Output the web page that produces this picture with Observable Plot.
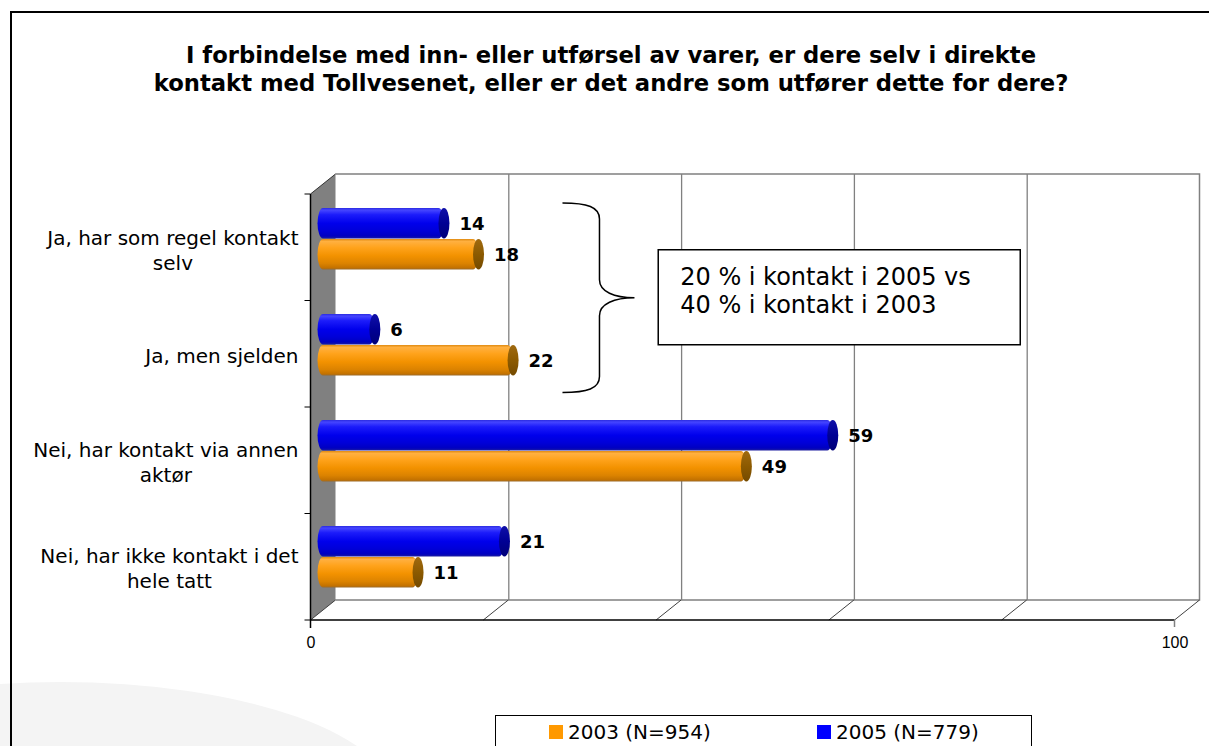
<!DOCTYPE html>
<html><head><meta charset="utf-8">
<script src="https://cdn.jsdelivr.net/npm/d3@7"></script>
<script src="https://cdn.jsdelivr.net/npm/@observablehq/plot@0.6"></script>
<style>
html,body{margin:0;padding:0;background:#fff;overflow:hidden;}
#wrap{position:relative;width:1209px;height:746px;overflow:hidden;font-family:"DejaVu Sans",Verdana,sans-serif;color:#000;}
#blob{position:absolute;left:-274px;top:682px;width:668px;height:236px;border-radius:50%;background:#f4f4f4;}
#frame{position:absolute;left:10px;top:11px;width:1300px;height:800px;border-left:2px solid #000;border-top:2px solid #000;}
#chart{position:absolute;left:0;top:0;}
#chart svg{max-width:none;}
#title{position:absolute;left:0;width:1222px;top:41px;text-align:center;font-weight:bold;font-size:22.7px;line-height:28px;white-space:pre;}
#legend{position:absolute;left:495px;top:715px;width:535px;height:60px;border:1px solid #000;background:#fff;font-size:20px;}
.sw{position:absolute;top:9px;width:14px;height:14px;}
.lt{position:absolute;top:1px;line-height:30px;white-space:pre;}
</style></head>
<body>
<div id="wrap">
  <div id="blob"></div>
  <div id="frame"></div>
  <div id="chart"></div>
  <div id="title"></div>
  <div id="legend"></div>
</div>
<script>
// ---- data ----
const categories = [
  "Ja, har som regel kontakt\nselv",
  "Ja, men sjelden",
  "Nei, har kontakt via annen\naktør",
  "Nei, har ikke kontakt i det\nhele tatt"
];
const values2003 = [18, 22, 49, 11];
const values2005 = [14, 6, 59, 21];
const seriesNames = ["2003 (N=954)", "2005 (N=779)"];
const seriesColors = ["#ff9900", "#0000ff"];
const xTicks = [0, 20, 40, 60, 80, 100];
const xTickLabels = [0, 100];
const titleLines = [
  "I forbindelse med inn- eller utførsel av varer, er dere selv i direkte",
  "kontakt med Tollvesenet, eller er det andre som utfører dette for dere?"
];
const noteLines = ["20 % i kontakt i 2005 vs", "40 % i kontakt i 2003"];

// ---- build ----
const rows2003 = categories.map((c, i) => ({cat: c, value: values2003[i]}));
const rows2005 = categories.map((c, i) => ({cat: c, value: values2005[i]}));

const HX = 12.5, HY = 10; // half of the 3D depth offset
const NS = "http://www.w3.org/2000/svg";
function el(tag, attrs) {
  const e = document.createElementNS(NS, tag);
  for (const k in attrs) e.setAttribute(k, attrs[k]);
  return e;
}

function defsMark() {
  const defs = el("defs", {});
  const grads = {
    gBlue: [[0,"#2a2ae0"],[0.07,"#4545ff"],[0.22,"#1c1cfa"],[0.5,"#0000ec"],[0.75,"#0000d8"],[0.92,"#0000c0"],[1,"#1c1ca0"]],
    gOrange: [[0,"#e08a10"],[0.08,"#ffb040"],[0.28,"#ffa31c"],[0.55,"#f39200"],[0.8,"#dc8300"],[0.94,"#c47200"],[1,"#9c6a28"]],
    gBlueCap: [[0,"#1010a8"],[0.5,"#000094"],[1,"#000078"]],
    gOrangeCap: [[0,"#a06a10"],[0.5,"#8c5a00"],[1,"#744a00"]]
  };
  for (const id in grads) {
    const g = el("linearGradient", {id, x1: 0, y1: 0, x2: 0, y2: 1});
    for (const [o, c] of grads[id]) g.appendChild(el("stop", {offset: o, "stop-color": c}));
    defs.appendChild(g);
  }
  return defs;
}

function boxMark(index, scales, values, dim) {
  const x = scales.x;
  const g = el("g", {fill: "none"});
  const top = dim.marginTop, bottom = dim.height - dim.marginBottom;
  const fx0 = x(0) - HX, bx0 = x(0) + HX, fx1 = x(100) - HX, bx1 = x(100) + HX;
  g.appendChild(el("path", {d: `M${bx0},${top - HY}H${bx1}V${bottom - HY}H${bx0}`, stroke: "#808080", "stroke-width": 1.5}));
  g.appendChild(el("path", {d: `M${fx0},${top + HY}L${bx0},${top - HY}V${bottom - HY}L${fx0},${bottom + HY}Z`, fill: "#808080", stroke: "none"}));
  g.appendChild(el("path", {d: `M${fx0},${top + HY}L${bx0},${top - HY}`, stroke: "#333", "stroke-width": 1}));
  for (const t of xTicks) {
    g.appendChild(el("path", {d: `M${x(t) - HX},${bottom + HY}L${x(t) + HX},${bottom - HY}`, stroke: "#404040", "stroke-width": 1}));
  }
  g.appendChild(el("path", {d: `M${fx0},${bottom + HY}H${fx1}`, stroke: "#000", "stroke-width": 1.5}));
  g.appendChild(el("path", {d: `M${fx1},${bottom + HY}v7`, stroke: "#808080", "stroke-width": 1.5}));
  g.appendChild(el("path", {d: `M${fx0},${top + HY}V${bottom + HY + 8}`, stroke: "#000", "stroke-width": 1.5}));
  const n = categories.length, bw = (bottom - top) / n;
  for (let i = 0; i <= n; i++) {
    const yy = top + i * bw + HY;
    g.appendChild(el("path", {d: `M${fx0 - 6},${yy}H${fx0}`, stroke: "#000", "stroke-width": 1}));
  }
  return g;
}

function noteMark(index, scales, values, dim) {
  const x = scales.x, y = scales.y;
  const g = el("g", {});
  const top = dim.marginTop, bottom = dim.height - dim.marginBottom;
  const bw = (bottom - top) / categories.length;
  const yA = y(categories[0]) + 18, yB = y(categories[1]) + bw - 5;
  const bx = x(32), ym = (yA + yB) / 2;
  g.appendChild(el("path", {
    d: `M${bx - 37},${yA}C${bx - 12},${yA} ${bx},${yA + 4} ${bx},${yA + 16}V${ym - 18}C${bx},${ym - 6} ${bx + 15},${ym} ${bx + 35},${ym}` +
       `C${bx + 15},${ym} ${bx},${ym + 6} ${bx},${ym + 18}V${yB - 16}C${bx},${yB - 4} ${bx - 12},${yB} ${bx - 37},${yB}`,
    fill: "none", stroke: "#000", "stroke-width": 1.5}));
  const rx = x(38.8), rw = x(80.7) - rx, ry = ym - 48;
  g.appendChild(el("rect", {x: rx, y: ry, width: rw, height: 95, fill: "#fff", stroke: "#000", "stroke-width": 1.5}));
  noteLines.forEach((t, i) => {
    const tx = el("text", {x: rx + 22, y: ry + 35 + i * 28, "font-size": 24, "font-family": "DejaVu Sans", "text-anchor": "start", fill: "#000"});
    tx.textContent = t;
    g.appendChild(tx);
  });
  return g;
}

const cv = document.createElement("canvas").getContext("2d");
cv.font = '20px "DejaVu Sans"';
function maxW(s) { return Math.max(...s.split("\n").map(l => cv.measureText(l).width)); }

const barStyle = (top, bottom) => ({y: "cat", insetTop: top, insetBottom: bottom, rx: 5.5, ry: 15.5});
const B = [23, 52.5], O = [54, 21.5];

const chart = Plot.plot({
  width: 1209, height: 746,
  marginTop: 184, marginBottom: 136, marginLeft: 323, marginRight: 22,
  style: {background: "transparent", overflow: "visible", fontFamily: "DejaVu Sans"},
  x: {domain: [0, 100], axis: null},
  y: {domain: categories, axis: null, padding: 0},
  marks: [
    defsMark,
    boxMark,
    Plot.ruleX(xTicks.slice(1, -1), {dx: HX, dy: -HY, stroke: "#808080", strokeWidth: 1.3}),
    Plot.barX(rows2005, {x1: 0, x2: "value", ...barStyle(...B), insetLeft: -5.5, fill: "url(#gBlue)"}),
    Plot.barX(rows2005, {x1: "value", x2: "value", ...barStyle(...B), insetLeft: -5.5, insetRight: -5.5, fill: "url(#gBlueCap)"}),
    Plot.barX(rows2003, {x1: 0, x2: "value", ...barStyle(...O), insetLeft: -5.5, fill: "url(#gOrange)"}),
    Plot.barX(rows2003, {x1: "value", x2: "value", ...barStyle(...O), insetLeft: -5.5, insetRight: -5.5, fill: "url(#gOrangeCap)"}),
    Plot.text(rows2005, {x: "value", y: "cat", text: d => String(d.value), dx: 15, dy: -14.75, textAnchor: "start", fontWeight: "bold", fontSize: 18, fill: "#000"}),
    Plot.text(rows2003, {x: "value", y: "cat", text: d => String(d.value), dx: 15, dy: 16.25, textAnchor: "start", fontWeight: "bold", fontSize: 18, fill: "#000"}),
    ...categories.map(c => Plot.text([c], {y: d => d, text: d => d, frameAnchor: "left", textAnchor: "middle", lineAnchor: "middle", dx: -25 - maxW(c) / 2, dy: 11, fontSize: 20, lineHeight: 1.23, fill: "#000"})),
    Plot.text(xTickLabels, {x: d => d, text: d => String(d), frameAnchor: "bottom", lineAnchor: "middle", dx: -HX, dy: 32, fontFamily: "Liberation Sans", fontSize: 16, fill: "#000"}),
    noteMark
  ]
});
document.getElementById("chart").appendChild(chart);

document.getElementById("title").textContent = titleLines.join("\n");

const legend = document.getElementById("legend");
const lx = [53, 321];
seriesNames.forEach((name, i) => {
  const sw = document.createElement("div");
  sw.className = "sw"; sw.style.left = lx[i] + "px"; sw.style.background = seriesColors[i];
  const t = document.createElement("div");
  t.className = "lt"; t.style.left = (lx[i] + 19) + "px"; t.textContent = name;
  legend.appendChild(sw); legend.appendChild(t);
});
</script>
</body></html>
